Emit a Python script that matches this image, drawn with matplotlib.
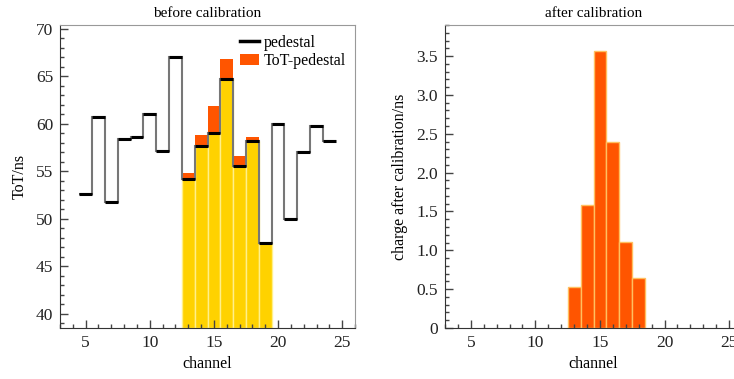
import matplotlib
matplotlib.use("Agg")
import matplotlib.pyplot as plt
from matplotlib.lines import Line2D
from matplotlib.patches import Patch
from matplotlib.ticker import MultipleLocator, FuncFormatter
import numpy as np

plt.rcParams['font.family'] = ['Liberation Serif', 'DejaVu Serif']
plt.rcParams['font.size'] = 11

# pedestal for every channel
channels = np.arange(5, 25)
pedestal = [52.6, 60.7, 51.8, 58.4, 58.6, 61.0, 57.1, 67.0, 54.2, 57.7,
            59.0, 64.7, 55.6, 58.2, 47.4, 60.0, 50.0, 57.0, 59.8, 58.2]

# channels with signal
sig_channels = np.arange(13, 20)
tot = [54.8, 58.8, 61.9, 66.8, 56.6, 58.6, 47.4]

# after calibration
cal_channels = np.arange(13, 19)
charge = [0.53, 1.58, 3.56, 2.40, 1.11, 0.64]

orange = '#ff5500'
gold = '#ffd200'
ymin_left = 38.5

fig = plt.figure(figsize=(7.34, 3.79), dpi=100)
ax1 = fig.add_axes([60/734, 1 - 328/379, 295/734, 303/379])
ax2 = fig.add_axes([445/734, 1 - 328/379, 297/734, 303/379])


def style_axes(ax):
    for side in ['top', 'right']:
        ax.spines[side].set_color('#999999')
    for side in ['left', 'bottom']:
        ax.spines[side].set_color('#333333')
    ax.tick_params(which='both', direction='in', top=False, right=False,
                   color='#444444', width=1, labelsize=12.5, labelcolor='#222222')
    ax.tick_params(which='major', length=6, pad=5)
    ax.tick_params(which='minor', length=3)
    ax.xaxis.set_major_locator(MultipleLocator(5))
    ax.xaxis.set_minor_locator(MultipleLocator(1))
    ax.set_xlim(3, 26)
    ax.set_xlabel('channel', fontsize=11.5, labelpad=4)


# left panel
ped_sig = np.array([pedestal[list(channels).index(c)] for c in sig_channels])
ax1.bar(sig_channels, ped_sig - ymin_left, bottom=ymin_left, width=1,
        color=gold, edgecolor='#fff08a', linewidth=1, zorder=1)
ax1.bar(sig_channels, np.array(tot) - ped_sig, bottom=ped_sig, width=1,
        color=orange, linewidth=0, zorder=1)
edges = np.append(channels - 0.5, channels[-1] + 0.5)
ax1.stairs(pedestal, edges, baseline=None, color='#777777', linewidth=1.5, zorder=2)
ax1.hlines(pedestal, channels - 0.5, channels + 0.5, color='black', linewidth=2.2, zorder=3)

ax1.set_ylim(ymin_left, 70.4)
ax1.yaxis.set_major_locator(MultipleLocator(5))
ax1.yaxis.set_minor_locator(MultipleLocator(1))
ax1.set_ylabel('ToT/ns', fontsize=11.5, labelpad=6)
ax1.set_title('before calibration', fontsize=11, pad=6)
style_axes(ax1)

handles = [Line2D([], [], color='black', linewidth=2.5),
           Patch(facecolor=orange, edgecolor='none')]
ax1.legend(handles, ['pedestal', 'ToT-pedestal'], loc='upper right',
           bbox_to_anchor=(0.997, 0.995), frameon=False, handlelength=1.2,
           handletextpad=0.3, borderaxespad=0.1, labelspacing=0.15,
           fontsize=11.5)

# right panel
ax2.bar(cal_channels, charge, width=1, color=orange, edgecolor='#ffc060',
        linewidth=1)
ax2.set_ylim(0, 3.9)
ax2.yaxis.set_major_locator(MultipleLocator(0.5))
ax2.yaxis.set_minor_locator(MultipleLocator(0.1))
ax2.yaxis.set_major_formatter(FuncFormatter(lambda v, p: '0' if abs(v) < 1e-9 else f'{v:.1f}'))
ax2.set_ylabel('charge after calibration/ns', fontsize=11.5, labelpad=6)
ax2.set_title('after calibration', fontsize=11, pad=6)
style_axes(ax2)

fig.savefig('out.png', dpi=100)
